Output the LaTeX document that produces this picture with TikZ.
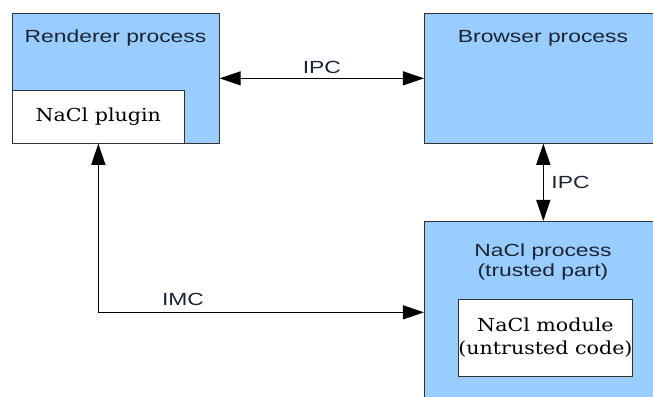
\documentclass[tikz,border=0pt]{standalone}
\usepackage{fontspec}
\newfontfamily\labelfont{Liberation Sans}
\newfontfamily\codefont{DejaVu Serif}
\usetikzlibrary{arrows.meta, positioning}
\definecolor{procblue}{RGB}{153,204,255}
\definecolor{edgegray}{RGB}{50,50,50}
\definecolor{inktext}{RGB}{26,36,51}
% text in the original is stretched sideways
\newcommand{\wide}[1]{\scalebox{1.3}[1]{#1}}
\newcommand{\serifwide}[1]{\scalebox{1.15}[1]{#1}}

\begin{document}
\begin{tikzpicture}[x=0.02cm, y=-0.02cm,
    procbox/.style={draw=edgegray, fill=procblue, inner sep=0pt, anchor=north west},
    codebox/.style={draw=edgegray, fill=white, inner sep=0pt, align=center, text=black,
        font=\codefont\fontsize{10.2}{13}\selectfont},
    sanslabel/.style={text=inktext, align=center, font=\labelfont\fontsize{10}{11}\selectfont},
    link/.style={black, semithick, {Triangle[length=12pt,width=8pt]}-{Triangle[length=12pt,width=8pt]}}]
\clip (0,0) rectangle (653,396);
\fill[white] (0,0) rectangle (653,396);

% process boxes
\node (rend) [procbox, minimum width=4.14cm, minimum height=2.6cm] at (12,13) {};
\node (browser) [procbox, minimum width=4.76cm, minimum height=2.6cm] at (424,13) {};
\node (nacl) [procbox, minimum width=4.76cm, minimum height=3.98cm] at (424,221) {};

\node (plugin) [codebox, anchor=south west, minimum width=3.44cm, minimum height=1.06cm]
    at (rend.south west) {\serifwide{NaCl plugin}};
\node (module) [codebox, anchor=north west, minimum width=3.44cm, minimum height=1.54cm]
    at (458,299) {\serifwide{NaCl module}\\\serifwide{(untrusted code)}};

\node (rendtxt) [sanslabel] at (115.5,38) {\wide{Renderer process}};
\node (browsertxt) [sanslabel] at (543,38) {\wide{Browser process}};
\node (nacltxt) [sanslabel] at (543,262) {\wide{NaCl process}\\\wide{(trusted part)}};

% connections
\draw[link] (rend) -- node[sanslabel, above=-1pt] (ipcone) {\wide{IPC}} (browser);
\draw[link] (browser.south) -- node[sanslabel, right=1pt] (ipctwo) {\wide{IPC}} (nacl.north);
\draw[link] (plugin.south) |- node[sanslabel, above=0pt, pos=0.63] (imc) {\wide{IMC}}
    ([yshift=0.17cm]nacl.west);

\end{tikzpicture}
\end{document}
